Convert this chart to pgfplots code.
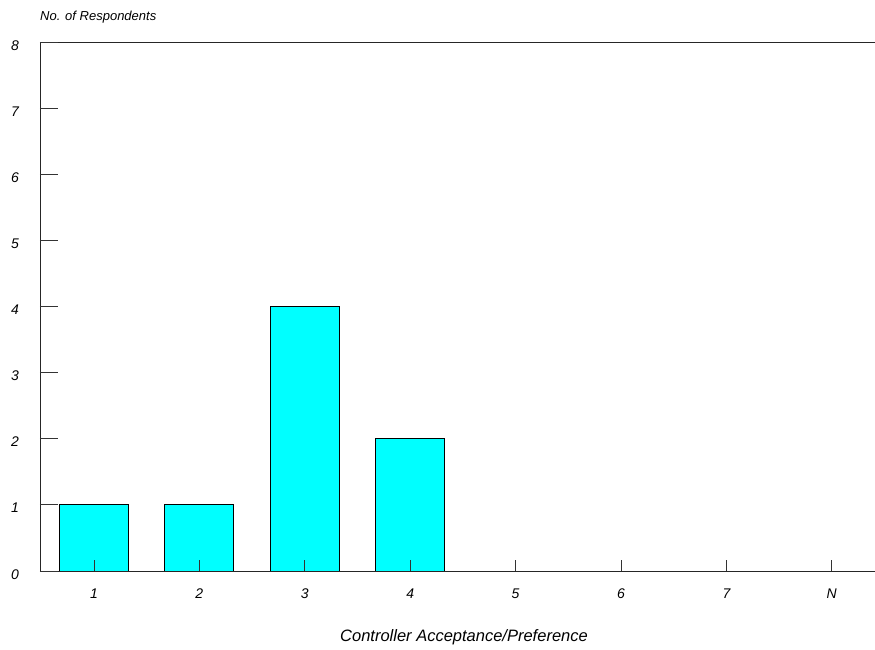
\documentclass[border=0pt]{standalone}
\usepackage{fontspec}
\setmainfont{Liberation Sans}
\usepackage{pgfplots}
\pgfplotsset{compat=1.18}
\definecolor{barcyan}{RGB}{0,255,255}
\begin{document}
\begin{tikzpicture}
\useasboundingbox (-40pt,-78pt) rectangle (835pt,571pt);
\begin{axis}[
  at={(0pt,0pt)}, anchor=south west,
  scale only axis,
  width=835pt, height=529pt,
  xmin=-0.512, xmax=7.41,
  ymin=0, ymax=8,
  ybar, bar width=69pt,
  axis line style={draw=none},
  axis on top,
  xtick={0,1,2,3,4,5,6,7},
  xticklabels={1,2,3,4,5,6,7,N},
  ytick={0,1,2,3,4,5,6,7,8},
  xtick pos=bottom, ytick pos=left,
  tick align=inside,
  xtick style={/pgfplots/major tick length=11pt, black!80, line width=0.8pt},
  ytick style={/pgfplots/major tick length=18pt, black!80, line width=0.8pt},
  /pgf/number format/assume math mode=true,
  ticklabel style={font=\fontsize{14}{16}\selectfont\itshape},
  xticklabel style={anchor=base, inner sep=0pt, yshift=-27.5pt},
  yticklabel style={anchor=base east, inner sep=0pt, xshift=-21pt, yshift=-8pt},
  clip=false,
]
\addplot[fill=barcyan, draw=black, line width=0.8pt] coordinates {
  (0,1) (1,1) (2,4) (3,2) (4,0) (5,0) (6,0) (7,0)
};
\draw[black!85, line width=0.9pt] (rel axis cs:1,1) -- (rel axis cs:0,1) -- (rel axis cs:0,0) -- (rel axis cs:1,0);
\node[anchor=base west, inner sep=0pt, font=\fontsize{13}{15}\selectfont\itshape] at ([yshift=22pt]rel axis cs:0,1) {No. of Respondents};
\node[anchor=base, inner sep=0pt, font=\fontsize{16.5}{19}\selectfont\itshape] at ([xshift=6.5pt,yshift=-70pt]rel axis cs:0.5,0) {Controller Acceptance/Preference};
\end{axis}
\end{tikzpicture}
\end{document}
